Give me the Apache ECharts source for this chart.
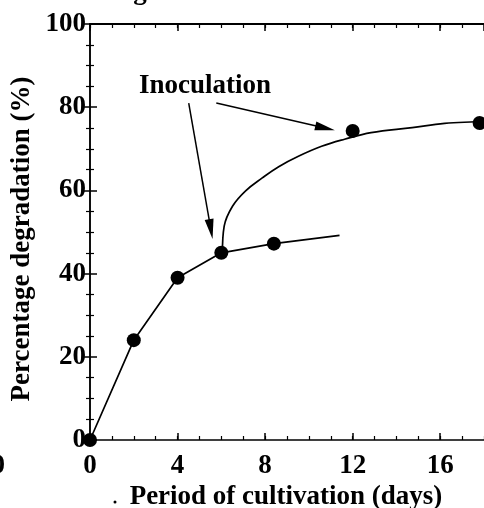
<!DOCTYPE html>
<html>
<head>
<meta charset="utf-8">
<script src="https://cdn.jsdelivr.net/npm/echarts@6/dist/echarts.min.js"></script>
<style>
  html, body { margin: 0; padding: 0; background: #fff; }
  #chart { width: 484px; height: 508px; }
</style>
</head>
<body>
<div id="chart"></div>
<script>
// measured points, before inoculation
const days = [0, 2, 4, 6, 8.4];
const degradation = [0, 24, 39, 45, 47.2];
// uninoculated trend keeps going, no marker
const tailDays = [11.4];
const tailValues = [49.2];
// points after inoculation
const inocDays = [12, 17.8];
const inocValues = [74.3, 76.2];
// fitted curve after inoculation
const fitDays = [6.05, 6.13, 6.51, 7.11, 7.87, 8.62, 9.52, 10.58, 11.63, 12.84, 14.72, 16.2, 17.6, 18];
const fitValues = [45, 51.4, 56.2, 59.9, 63.0, 65.7, 68.2, 70.6, 72.3, 73.9, 75.1, 76.1, 76.5, 76.6];
// arrows from the label: [start, end]
const arrows = [
  [[4.51, 81.0], [5.52, 50.7]],
  [[5.77, 81.0], [10.74, 75.0]]
];

const FONT = '"Liberation Serif", "Times New Roman", serif';
const black = '#000';

const chart = echarts.init(document.getElementById('chart'));

const lowerData = days.map((d, i) => [d, degradation[i]])
  .concat(tailDays.map((d, i) => ({ value: [d, tailValues[i]], symbol: 'none' })));

const xBase = {
  type: 'value', min: 0, max: 18,
  splitLine: { show: false },
  axisLine: { show: true, lineStyle: { color: black, width: 1.5 } },
  axisLabel: { show: false }
};

chart.setOption({
  animation: false,
  backgroundColor: '#fff',
  grid: { left: 90, right: -5, top: 24, bottom: 68 },
  xAxis: [
    Object.assign({}, xBase, {
      position: 'bottom', interval: 4,
      axisTick: { show: true, inside: true, length: 7, lineStyle: { color: black, width: 1.5 } },
      axisLabel: {
        show: true, margin: 13, showMaxLabel: false,
        color: black, fontFamily: FONT, fontWeight: 'bold', fontSize: 27
      }
    }),
    Object.assign({}, xBase, {
      position: 'bottom', interval: 1,
      axisLine: { show: false },
      axisTick: { show: true, inside: true, length: 4, lineStyle: { color: black, width: 1.2 } }
    }),
    Object.assign({}, xBase, {
      position: 'top', interval: 4,
      axisLine: { show: true, lineStyle: { color: black, width: 2 } },
      axisTick: { show: true, inside: true, length: 7, lineStyle: { color: black, width: 1.5 } }
    }),
    Object.assign({}, xBase, {
      position: 'top', interval: 1,
      axisLine: { show: false },
      axisTick: { show: true, inside: true, length: 4, lineStyle: { color: black, width: 1.2 } }
    })
  ],
  yAxis: [
    {
      type: 'value', min: 0, max: 100, interval: 20, position: 'left',
      splitLine: { show: false },
      axisLine: { show: true, lineStyle: { color: black, width: 1.5 } },
      axisTick: { show: true, inside: true, length: 7, lineStyle: { color: black, width: 1.5 } },
      minorTick: { show: true, splitNumber: 4, length: 4, lineStyle: { color: black, width: 1.2 } },
      axisLabel: { margin: 4, color: black, fontFamily: FONT, fontWeight: 'bold', fontSize: 27 }
    },
    {
      type: 'value', min: 0, max: 100, interval: 20, position: 'right',
      splitLine: { show: false },
      axisLine: { show: true, lineStyle: { color: black, width: 1.5 } },
      axisTick: { show: true, inside: true, length: 7, lineStyle: { color: black, width: 1.5 } },
      minorTick: { show: true, splitNumber: 4, length: 4, lineStyle: { color: black, width: 1.2 } },
      axisLabel: { show: false }
    }
  ],
  series: [
    {
      type: 'line', data: lowerData,
      symbol: 'circle', symbolSize: 14,
      itemStyle: { color: black, opacity: 1 },
      lineStyle: { color: black, width: 1.7 },
      z: 3,
      markLine: {
        silent: true,
        symbol: ['none', 'triangle'],
        symbolSize: [9, 20],
        label: { show: false },
        lineStyle: { color: black, width: 1.5, type: 'solid' },
        data: arrows.map(a => [
          { coord: a[0], symbol: 'none' },
          { coord: a[1], symbol: 'triangle', symbolSize: [9, 20] }
        ])
      }
    },
    {
      type: 'line', data: fitDays.map((d, i) => [d, fitValues[i]]),
      symbol: 'none', smooth: 0.4,
      lineStyle: { color: black, width: 1.7 },
      z: 2
    },
    {
      type: 'scatter', data: inocDays.map((d, i) => [d, inocValues[i]]),
      symbol: 'circle', symbolSize: 14,
      itemStyle: { color: black, opacity: 1 },
      z: 3
    }
  ],
  graphic: [
    {
      type: 'text', x: 139, y: 86,
      style: { text: 'Inoculation', font: 'bold 27px ' + FONT, fill: black,
        align: 'left', verticalAlign: 'middle', textAlign: 'left', textVerticalAlign: 'middle' }
    },
    {
      type: 'text', x: 22, y: 239, rotation: Math.PI / 2,
      style: { text: 'Percentage degradation (%)', font: 'bold 27px ' + FONT, fill: black,
        align: 'center', verticalAlign: 'middle', textAlign: 'center', textVerticalAlign: 'middle' }
    },
    {
      type: 'text', x: 286, y: 497,
      style: { text: 'Period of cultivation (days)', font: 'bold 27px ' + FONT, fill: black,
        align: 'center', verticalAlign: 'middle', textAlign: 'center', textVerticalAlign: 'middle' }
    },
    {
      type: 'circle', shape: { cx: 115, cy: 502, r: 1.5 }, style: { fill: black }
    },
    {
      // bits of neighbouring text cut by the crop
      type: 'text', x: 140, y: -8,
      style: { text: 'g', font: 'bold 27px ' + FONT, fill: black,
        align: 'center', verticalAlign: 'middle', textAlign: 'center', textVerticalAlign: 'middle' }
    },
    {
      type: 'text', x: 5, y: 466,
      style: { text: '0', font: 'bold 27px ' + FONT, fill: black,
        align: 'right', verticalAlign: 'middle', textAlign: 'right', textVerticalAlign: 'middle' }
    }
  ]
});
</script>
</body>
</html>
